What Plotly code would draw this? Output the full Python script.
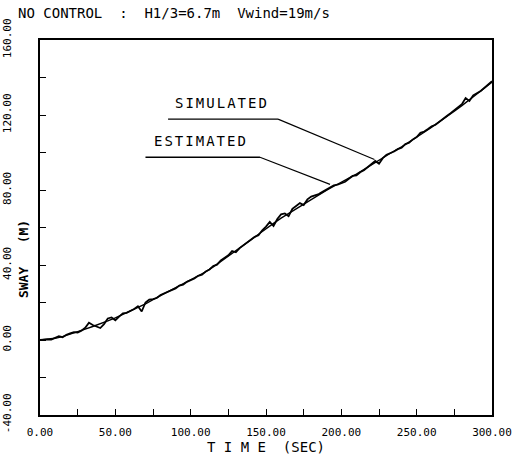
import plotly.graph_objects as go

# ---- data ----
t_sim = [i * 2.5 for i in range(121)]
sway_sim = [0.0, 0.3, 0.3, 0.2, 1.0, 2.0, 1.5, 2.8, 3.5, 4.2,
            4.0, 5.0, 6.5, 9.2, 8.0, 7.0, 6.4, 8.5, 11.5, 12.0,
            10.5, 12.5, 14.2, 14.5, 15.5, 16.5, 18.0, 15.2, 20.0, 21.5,
            21.8, 22.4, 24.0, 24.8, 26.0, 26.8, 27.5, 29.0, 29.5, 31.0,
            31.8, 32.8, 34.2, 34.8, 36.5, 37.6, 39.5, 40.2, 42.5, 44.0,
            45.2, 47.5, 46.8, 49.0, 50.5, 52.0, 53.5, 55.0, 55.8, 58.5,
            60.5, 63.0, 60.8, 64.5, 67.0, 67.5, 66.0, 70.0, 71.5, 73.0,
            72.0, 75.0, 76.5, 77.0, 77.8, 79.0, 80.2, 81.0, 82.5, 82.8,
            83.8, 84.4, 86.0, 87.5, 87.8, 89.5, 90.5, 92.2, 93.5, 95.5,
            94.0, 97.0, 98.8, 99.6, 100.5, 101.8, 102.5, 104.5, 105.2, 107.0,
            108.2, 110.5, 111.2, 112.5, 114.0, 114.8, 116.5, 118.0, 119.5, 121.0,
            122.5, 124.0, 125.8, 129.0, 127.5, 130.5, 131.6, 132.8, 134.5, 136.5,
            138.0]

t_est = [i * 5 for i in range(61)]
sway_est = [0.0, 0.3, 0.9, 1.8, 3.0, 4.2, 5.8, 7.2, 8.5, 10.2,
            11.8, 13.6, 15.3, 17.0, 19.2, 21.5, 23.6, 25.8, 27.8, 29.8,
            31.8, 34.0, 36.4, 39.0, 41.8, 44.8, 47.6, 50.5, 53.4, 56.4,
            59.5, 62.2, 65.0, 67.5, 70.0, 72.5, 75.0, 77.5, 79.8, 82.0,
            84.0, 86.3, 88.5, 91.0, 93.5, 96.0, 98.5, 100.8, 103.0, 105.5,
            108.0, 110.8, 113.5, 116.2, 119.0, 122.0, 125.0, 128.0, 131.0, 134.2,
            137.5]

x_ticks = [0, 50, 100, 150, 200, 250, 300]
x_ticklabels = ["0.00", "50.00", "100.00", "150.00", "200.00", "250.00", "300.00"]
y_ticks = [-40, 0, 40, 80, 120, 160]
y_ticklabels = ["-40.00", "0.00", "40.00", "80.00", "120.00", "160.00"]

FONT = "DejaVu Sans Mono"

fig = go.Figure()
fig.add_trace(go.Scatter(x=t_sim, y=sway_sim, mode="lines",
                         line=dict(color="black", width=1.8), name="SIMULATED"))
fig.add_trace(go.Scatter(x=t_est, y=sway_est, mode="lines",
                         line=dict(color="black", width=1.4), name="ESTIMATED"))

# labels with leader lines
fig.add_annotation(x=121, y=121, text='<span style="letter-spacing:2px">SIMULATED</span>',
                   showarrow=False, yanchor="bottom",
                   font=dict(family=FONT, size=14, color="black"))
fig.add_shape(type="line", x0=85, y0=117.8, x1=158, y1=117.8, line=dict(color="black", width=1.4))
fig.add_shape(type="line", x0=158, y0=117.8, x1=222, y1=96.3, line=dict(color="black", width=1.1))

fig.add_annotation(x=107, y=100.8, text='<span style="letter-spacing:2px">ESTIMATED</span>',
                   showarrow=False, yanchor="bottom",
                   font=dict(family=FONT, size=14, color="black"))
fig.add_shape(type="line", x0=70, y0=97.5, x1=146, y1=97.5, line=dict(color="black", width=1.4))
fig.add_shape(type="line", x0=146, y0=97.5, x1=192.5, y1=83, line=dict(color="black", width=1.1))

# y axis title placed between tick labels and axis
fig.add_annotation(xref="paper", yref="paper", x=-0.036, y=0.415, text="<b>SWAY   (M)</b>",
                   xanchor="center", yanchor="middle",
                   textangle=-90, showarrow=False,
                   font=dict(family=FONT, size=13, color="black"))

fig.update_layout(
    width=522, height=458,
    margin=dict(l=40, r=30, t=40, b=43, autoexpand=False),
    paper_bgcolor="white", plot_bgcolor="white",
    showlegend=False,
    title=dict(text="NO CONTROL  :  H1/3=6.7m  Vwind=19m/s",
               x=18 / 522, y=1 - 13 / 458, xanchor="left", yanchor="middle",
               xref="container", yref="container",
               font=dict(family=FONT, size=14, color="black")),
)
fig.update_xaxes(range=[0, 300], tickvals=x_ticks, ticktext=x_ticklabels,
                 ticks="inside", ticklen=6, tickcolor="black", tickwidth=1,
                 minor=dict(dtick=25, tick0=0, ticks="inside", ticklen=6, tickcolor="black"),
                 showline=True, linecolor="black", linewidth=1.5, mirror=True,
                 showgrid=False, zeroline=False, ticklabelstandoff=6, automargin=False,
                 tickfont=dict(family=FONT, size=11, color="black"),
                 title=dict(text="T I M E  (SEC)", standoff=0,
                            font=dict(family=FONT, size=14, color="black")))
fig.update_yaxes(range=[-40, 160], tickvals=y_ticks, ticktext=y_ticklabels,
                 ticks="inside", ticklen=6, tickcolor="black", tickwidth=1,
                 minor=dict(dtick=20, tick0=0, ticks="inside", ticklen=6, tickcolor="black"),
                 showline=True, linecolor="black", linewidth=1.5, mirror=True,
                 showgrid=False, zeroline=False, tickangle=-90, automargin=False,
                 ticklabelstandoff=23,
                 tickfont=dict(family=FONT, size=11, color="black"))

fig.write_html("out.html")
